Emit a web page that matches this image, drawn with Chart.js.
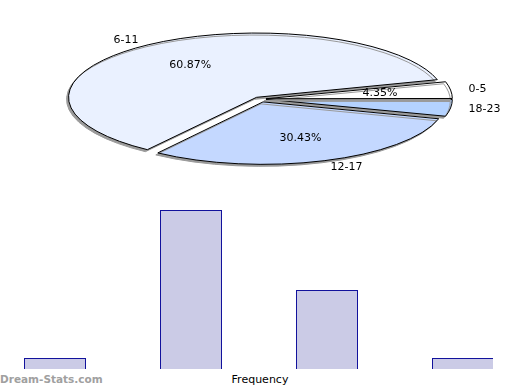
<!DOCTYPE html>
<html>
<head>
<meta charset="utf-8">
<script src="https://cdn.jsdelivr.net/npm/chart.js@4/dist/chart.umd.min.js"></script>
<style>
  html, body { margin: 0; padding: 0; background: #fff; }
  body { width: 520px; height: 390px; overflow: hidden; position: relative; font-family: "DejaVu Sans", sans-serif; }
  #pie { position: absolute; left: 0; top: 0; }
  #caja { position: absolute; left: 0; top: 199px; width: 493px; height: 170px; overflow: hidden; }
  #bars { position: absolute; left: -13px; top: 0; }
  #freq { position: absolute; left: 0; width: 520px; top: 373px; text-align: center; font-size: 11px; color: #000; }
  #marca { position: absolute; left: 0; top: 373px; font-size: 10.5px; font-weight: bold; color: #a0a0a0; }
</style>
</head>
<body>
<canvas id="pie" width="520" height="198"></canvas>
<div id="caja"><canvas id="bars" width="544" height="170"></canvas></div>
<div id="freq">Frequency</div>
<div id="marca">Dream-Stats.com</div>
<script>
// datos
const grupos = ['0-5', '6-11', '12-17', '18-23']
const frecuencias = [1, 14, 7, 1]
const mostrarPct = [true, true, true, false]
const coloresPie = ['#ffffff', '#eaf1ff', '#c4d8ff', '#b4d2ff']
const separacion = [24, 24, 36, 24]

const K = 0.342 // aplastado vertical del pastel
const total = frecuencias.reduce((a, b) => a + b, 0)

// el pastel va en sentido horario desde las 3, asi que se invierte el orden
const orden = [3, 2, 1, 0]

let elipse = {
    id: 'elipse',
    beforeDatasetsDraw: (chart) => {
        const ctx = chart.ctx
        const arc = chart.getDatasetMeta(0).data[0]
        ctx.save()
        ctx.translate(arc.x, arc.y)
        ctx.scale(1, K)
        ctx.translate(-arc.x, -arc.y)
        ctx.shadowColor = '#9a9a9a'
        ctx.shadowOffsetX = -2
        ctx.shadowOffsetY = 2
        ctx.shadowBlur = 0
        const stroke = CanvasRenderingContext2D.prototype.stroke
        // borde de 1px parejo: el trazo se hace sin la escala
        ctx.stroke = function () {
            this.save()
            this.setTransform(1, 0, 0, 1, 0, 0)
            stroke.call(this)
            this.restore()
        }
    },
    afterDatasetsDraw: (chart) => {
        const ctx = chart.ctx
        delete ctx.stroke
        ctx.restore()
    },
    afterDraw: (chart) => {
        const ctx = chart.ctx
        const meta = chart.getDatasetMeta(0)
        ctx.save()
        ctx.font = '11px "DejaVu Sans"'
        ctx.fillStyle = '#000'
        ctx.textBaseline = 'middle'
        meta.data.forEach((arc, i) => {
            const idx = orden[i]
            const a = (arc.startAngle + arc.endAngle) / 2
            const r = arc.outerRadius
            const c = Math.cos(a)
            const s = Math.sin(a)
            ctx.textAlign = c >= 0 ? 'left' : 'right'
            ctx.fillText(grupos[idx], arc.x + c * r * 1.157, arc.y + s * r * 1.157 * K)
            if (mostrarPct[idx]) {
                const pct = (frecuencias[idx] / total * 100).toFixed(2) + '%'
                ctx.textAlign = 'center'
                ctx.fillText(pct, arc.x + c * r * 0.665, arc.y + s * r * 0.665 * K)
            }
        })
        ctx.restore()
    }
}

// redondea las barras al pixel para que el borde salga nitido
let pixel = {
    id: 'pixel',
    afterDatasetsUpdate: (chart) => {
        chart.getDatasetMeta(0).data.forEach(b => {
            b.y = Math.round(b.y)
            b.base = Math.round(b.base)
        })
    }
}

new Chart(document.getElementById('pie'), {
    type: 'pie',
    data: {
        labels: orden.map(i => grupos[i]),
        datasets: [{
            data: orden.map(i => frecuencias[i]),
            backgroundColor: orden.map(i => coloresPie[i]),
            offset: orden.map(i => separacion[i]),
            borderColor: '#000',
            borderWidth: 1,
            clip: false
        }]
    },
    options: {
        responsive: false,
        animation: false,
        rotation: 90,
        radius: 182,
        layout: { padding: 0 },
        plugins: { legend: { display: false }, tooltip: { enabled: false } }
    },
    plugins: [elipse]
})

new Chart(document.getElementById('bars'), {
    type: 'bar',
    data: {
        labels: grupos,
        datasets: [{
            data: frecuencias,
            backgroundColor: '#cbcbe6',
            borderColor: '#12129c',
            borderWidth: 1,
            categoryPercentage: 1,
            barPercentage: 62 / 136
        }]
    },
    options: {
        responsive: false,
        animation: false,
        layout: { padding: 0 },
        plugins: { legend: { display: false }, tooltip: { enabled: false } },
        scales: {
            x: { display: false },
            y: { display: false, min: 0, max: 15 }
        }
    },
    plugins: [pixel]
})
</script>
</body>
</html>
